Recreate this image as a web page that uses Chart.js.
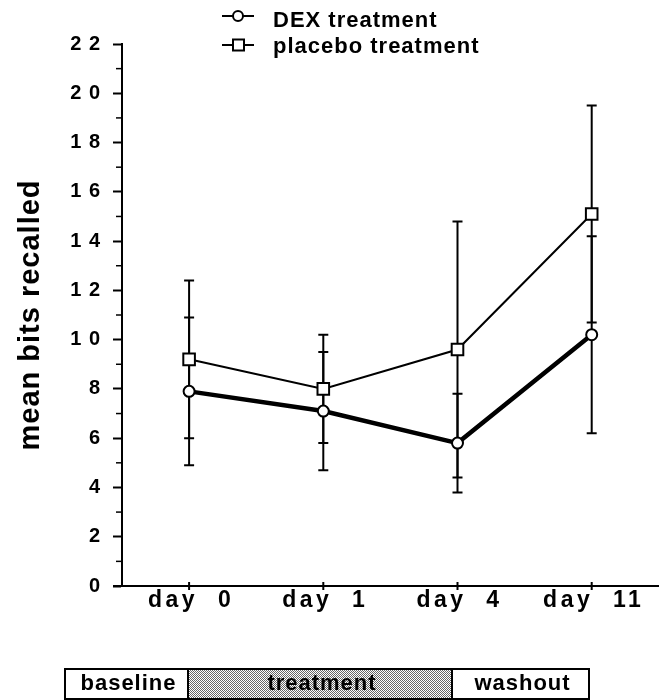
<!DOCTYPE html>
<html>
<head>
<meta charset="utf-8">
<script src="https://cdn.jsdelivr.net/npm/chart.js@4.4.1/dist/chart.umd.min.js"></script>
<style>
  body { margin: 0; background: #fff; }
  canvas { display: block; }
</style>
</head>
<body>
<canvas id="recallChart" width="669" height="700"></canvas>
<script>
let days = ["day  0", "day  1", "day  4", "day  11"];
let dexMean = [7.9, 7.1, 5.8, 10.2];
let dexErr = [3.0, 2.4, 2.0, 4.0];
let placeboMean = [9.2, 8.0, 9.6, 15.1];
let placeboErr = [3.2, 2.2, 5.2, 4.4];
let phases = ["baseline", "treatment", "washout"];

const FONT = "'Liberation Sans', Arial, sans-serif";

// little stipple for the treatment box
function stipple(ctx) {
  const c = document.createElement('canvas');
  c.width = 2; c.height = 2;
  const g = c.getContext('2d');
  g.fillStyle = '#fff';
  g.fillRect(0, 0, 2, 2);
  g.fillStyle = '#666';
  g.fillRect(0, 0, 1, 1);
  g.fillRect(1, 1, 1, 1);
  return ctx.createPattern(c, 'repeat');
}

const extras = {
  id: 'extras',
  beforeDraw(chart) {
    chart.ctx.letterSpacing = '1px';
  },
  beforeDatasetsDraw(chart) {
    const ctx = chart.ctx;
    const y = chart.scales.y;
    ctx.save();
    ctx.strokeStyle = '#000';
    ctx.lineWidth = 2;
    chart.data.datasets.forEach((ds, di) => {
      const meta = chart.getDatasetMeta(di);
      meta.data.forEach((pt, i) => {
        const hi = y.getPixelForValue(ds.data[i] + ds.errors[i]);
        const lo = y.getPixelForValue(ds.data[i] - ds.errors[i]);
        ctx.beginPath();
        ctx.moveTo(pt.x, hi); ctx.lineTo(pt.x, lo);
        ctx.moveTo(pt.x - 5, hi); ctx.lineTo(pt.x + 5, hi);
        ctx.moveTo(pt.x - 5, lo); ctx.lineTo(pt.x + 5, lo);
        ctx.stroke();
      });
    });
    ctx.restore();
  },
  afterDraw(chart) {
    const ctx = chart.ctx;
    const area = chart.chartArea;
    const x = chart.scales.x;
    const y = chart.scales.y;
    ctx.save();
    ctx.strokeStyle = '#000';
    ctx.fillStyle = '#000';

    // minor y ticks
    ctx.lineWidth = 1.5;
    for (let v = y.min + 1; v < y.max; v += 2) {
      const py = y.getPixelForValue(v);
      ctx.beginPath();
      ctx.moveTo(area.left - 6, py); ctx.lineTo(area.left, py);
      ctx.stroke();
    }

    // x axis stub left of y axis + category ticks
    ctx.lineWidth = 2;
    ctx.beginPath();
    ctx.moveTo(area.left - 9, area.bottom); ctx.lineTo(area.left, area.bottom);
    ctx.stroke();
    x.ticks.forEach((t, i) => {
      const px = x.getPixelForTick(i);
      ctx.beginPath();
      ctx.moveTo(px, area.bottom - 4); ctx.lineTo(px, area.bottom + 4);
      ctx.stroke();
    });

    // x labels
    ctx.font = 'bold 23px ' + FONT;
    ctx.letterSpacing = '3.5px';
    ctx.textAlign = 'center';
    ctx.textBaseline = 'middle';
    x.ticks.forEach((t, i) => {
      ctx.fillText(days[i], x.getPixelForTick(i) + 2, area.bottom + 15);
    });

    // legend
    ctx.font = 'bold 22px ' + FONT;
    ctx.letterSpacing = '1px';
    ctx.textAlign = 'left';
    const rows = [16, 45];
    chart.data.datasets.forEach((ds, di) => {
      const ly = rows[di];
      ctx.lineWidth = 2;
      ctx.beginPath();
      ctx.moveTo(222, ly); ctx.lineTo(254, ly);
      ctx.stroke();
      ctx.fillStyle = '#fff';
      ctx.beginPath();
      if (ds.pointStyle === 'rect') {
        ctx.rect(233, ly - 5.5, 11, 11);
      } else {
        ctx.arc(238, ly, 5, 0, Math.PI * 2);
      }
      ctx.fill();
      ctx.stroke();
      ctx.fillStyle = '#000';
      ctx.fillText(ds.label, 273, ly + (di === 0 ? 5 : 2));
    });

    // phase box at the bottom
    const edges = [65, 188, 452, 589];
    const top = 669, bot = 699;
    ctx.lineWidth = 2;
    ctx.fillStyle = stipple(ctx);
    ctx.fillRect(edges[1], top, edges[2] - edges[1], bot - top);
    ctx.strokeRect(edges[0], top, edges[3] - edges[0], bot - top);
    ctx.beginPath();
    ctx.moveTo(edges[1], top); ctx.lineTo(edges[1], bot);
    ctx.moveTo(edges[2], top); ctx.lineTo(edges[2], bot);
    ctx.stroke();
    ctx.fillStyle = '#000';
    ctx.font = 'bold 22px ' + FONT;
    ctx.letterSpacing = '1px';
    ctx.textAlign = 'center';
    phases.forEach((p, i) => {
      ctx.fillText(p, (edges[i] + edges[i + 1]) / 2 + 2, 684);
    });
    ctx.restore();
  }
};

new Chart("recallChart", {
  type: 'line',
  data: {
    labels: days,
    datasets: [{
      label: 'DEX treatment',
      data: dexMean,
      errors: dexErr,
      borderColor: '#000',
      borderWidth: 4.5,
      pointStyle: 'circle',
      pointRadius: 5.5,
      pointBorderWidth: 2,
      pointBackgroundColor: '#fff',
      pointBorderColor: '#000',
      tension: 0,
      fill: false
    }, {
      label: 'placebo treatment',
      data: placeboMean,
      errors: placeboErr,
      borderColor: '#000',
      borderWidth: 2,
      pointStyle: 'rect',
      pointRadius: 8.2,
      pointBorderWidth: 2,
      pointBackgroundColor: '#fff',
      pointBorderColor: '#000',
      tension: 0,
      fill: false
    }]
  },
  options: {
    responsive: false,
    animation: false,
    events: [],
    layout: { padding: { left: 0, right: 9, top: 44, bottom: 74 } },
    plugins: {
      legend: { display: false },
      tooltip: { enabled: false }
    },
    scales: {
      x: {
        type: 'category',
        offset: true,
        grid: { display: false },
        border: { display: true, color: '#000', width: 2 },
        ticks: { display: false },
        afterFit(scale) { scale.height = 40; }
      },
      y: {
        min: 0,
        max: 22,
        ticks: {
          stepSize: 2,
          padding: 12,
          color: '#000',
          font: { family: FONT, size: 20, weight: 'bold' },
          callback: (v) => String(v).split('').join(' ')
        },
        grid: {
          drawOnChartArea: false,
          drawTicks: true,
          tickLength: 9,
          tickWidth: 2,
          tickColor: '#000'
        },
        border: { display: true, color: '#000', width: 2 },
        title: {
          display: true,
          text: 'mean bits recalled',
          color: '#000',
          font: { family: FONT, size: 29, weight: 'bold' },
          padding: { top: 14, bottom: 0 }
        },
        afterFit(scale) { scale.width = 122; }
      }
    }
  },
  plugins: [extras]
});
</script>
</body>
</html>
